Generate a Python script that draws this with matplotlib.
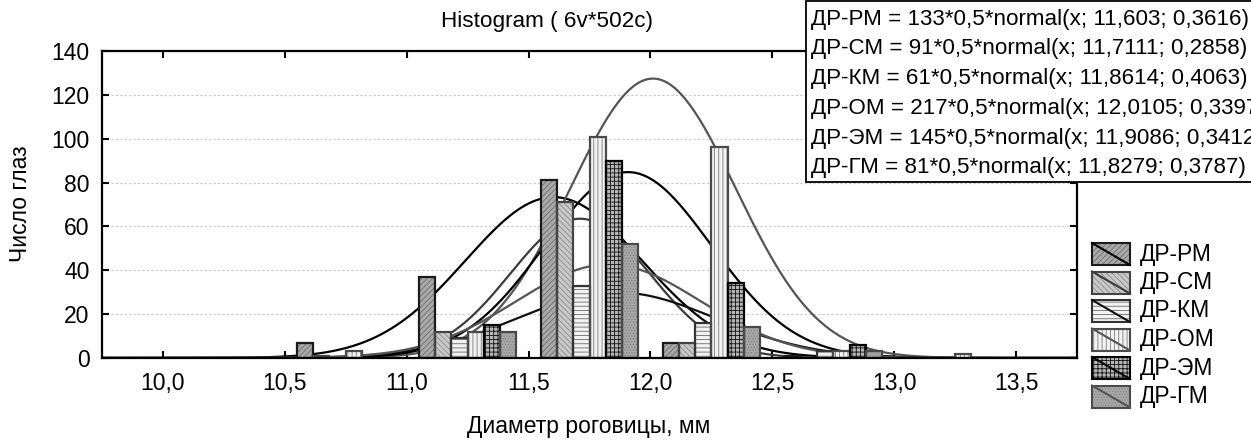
import numpy as np
import matplotlib
matplotlib.use('Agg')
import matplotlib.pyplot as plt
from matplotlib.patches import Rectangle
from matplotlib.lines import Line2D
from matplotlib.ticker import MultipleLocator, FuncFormatter

plt.rcParams['font.family'] = ['Liberation Sans', 'DejaVu Sans']
plt.rcParams['hatch.linewidth'] = 0.6

# ---------------- data ----------------
series = ['ДР-РМ', 'ДР-СМ', 'ДР-КМ', 'ДР-ОМ', 'ДР-ЭМ', 'ДР-ГМ']
bin_centers = [10.25, 10.75, 11.25, 11.75, 12.25, 12.75, 13.25]
bin_width = 0.5

counts_rm = [0, 7, 37, 81, 7, 1, 0]
counts_sm = [0, 1, 12, 71, 7, 0, 0]
counts_km = [0, 0, 9, 33, 16, 3, 0]
counts_om = [0, 3, 12, 101, 96, 3, 2]
counts_em = [0, 0, 15, 90, 34, 6, 0]
counts_gm = [0, 0, 12, 52, 14, 3, 0]
counts = [counts_rm, counts_sm, counts_km, counts_om, counts_em, counts_gm]

fit_n = [133, 91, 61, 217, 145, 81]
fit_mean = [11.603, 11.7111, 11.8614, 12.0105, 11.9086, 11.8279]
fit_sd = [0.3616, 0.2858, 0.4063, 0.3397, 0.3412, 0.3787]
fit_n_txt = ['133', '91', '61', '217', '145', '81']
fit_mean_txt = ['11,603', '11,7111', '11,8614', '12,0105', '11,9086', '11,8279']
fit_sd_txt = ['0,3616', '0,2858', '0,4063', '0,3397', '0,3412', '0,3787']

title = 'Histogram ( 6v*502c)'
xlabel = 'Диаметр роговицы, мм'
ylabel = 'Число глаз'

# ---------------- styles ----------------
face = ['#a9a9a9', '#c9c9c9', '#f2f2f2', '#f2f2f2', '#b5b5b5', '#a8a8a8']
hatch = ['//////', '\\\\\\\\\\\\', '----', '||||', '++++', '......']
hcol = ['#6e6e6e', '#8c8c8c', '#6a6a6a', '#7a7a7a', '#111111', '#838383']
edge = ['#1a1a1a', '#444444', '#333333', '#4a4a4a', '#000000', '#4a4a4a']
lcol = ['#000000', '#3c3c3c', '#111111', '#555555', '#000000', '#555555']

W, H = 1251, 441
fig = plt.figure(figsize=(W / 100, H / 100), dpi=100)
fig.patch.set_facecolor('white')

def fx(px):
    return px / W

def fy(py):
    return 1 - py / H

ax = fig.add_axes([fx(102), fy(358), fx(1077) - fx(102), fy(51) - fy(358)])
ax.set_xlim(9.75, 13.75)
ax.set_ylim(0, 140)

bar_w = bin_width * 0.8 / len(series)
xs = np.linspace(9.75, 13.75, 800)
for i, name in enumerate(series):
    n, m, s = fit_n[i], fit_mean[i], fit_sd[i]
    y = n * bin_width * np.exp(-0.5 * ((xs - m) / s) ** 2) / (s * np.sqrt(2 * np.pi))
    ax.plot(xs, y, color=lcol[i], lw=1.6, zorder=1.5, solid_capstyle='butt')

for i, name in enumerate(series):
    c = np.array(counts[i], dtype=float)
    x = np.array(bin_centers) + (i - 2.5) * bar_w
    mask = c > 0
    ax.bar(x[mask], c[mask], width=bar_w, color=face[i], hatch=hatch[i],
           edgecolor=hcol[i], linewidth=0, zorder=2)
    ax.bar(x[mask], c[mask], width=bar_w, fill=False,
           edgecolor=edge[i], linewidth=1.6, zorder=2.1)

ax.xaxis.set_major_locator(MultipleLocator(0.5))
ax.yaxis.set_major_locator(MultipleLocator(20))
ax.xaxis.set_major_formatter(FuncFormatter(lambda v, p: f'{v:.1f}'.replace('.', ',')))
ax.yaxis.set_major_formatter(FuncFormatter(lambda v, p: f'{v:.0f}'))
ax.tick_params(direction='in', length=5, width=1.5, top=True, right=True,
               labelsize=16.5, colors='black')
ax.tick_params(axis='y', pad=9)
ax.tick_params(axis='x', pad=10)
ax.yaxis.grid(True, linestyle=(0, (2, 2)), color='#c8c8c8', lw=0.8)
ax.set_axisbelow(True)
for sp in ax.spines.values():
    sp.set_linewidth(1.6)
    sp.set_color('black')

fig.text(fx(547), fy(22), title, ha='center', va='center', fontsize=16.2)
fig.text(fx(589), fy(427), xlabel, ha='center', va='center', fontsize=16.5)
fig.text(fx(21), fy(204), ylabel, ha='center', va='center', rotation=90, fontsize=16.5)

# formula box
fig.add_artist(Rectangle((fx(806), fy(182)), 0.5, fy(1) - fy(182),
                         transform=fig.transFigure, facecolor='white',
                         edgecolor='black', lw=1.3, zorder=5))
for i, name in enumerate(series):
    txt = f'{name} = {fit_n_txt[i]}*0,5*normal(x; {fit_mean_txt[i]}; {fit_sd_txt[i]})'
    fig.text(fx(811), fy(19 + 29.8 * i), txt, ha='left', va='center',
             fontsize=16.1, zorder=6)

# legend (drawn as patches + diagonal line)
for i, name in enumerate(series):
    top = 243 + 28.5 * i
    rect_h = 22
    fig.add_artist(Rectangle((fx(1092), fy(top + rect_h)), fx(38), rect_h / H,
                             transform=fig.transFigure, facecolor=face[i],
                             hatch=hatch[i], edgecolor=hcol[i], lw=0, zorder=5))
    fig.add_artist(Rectangle((fx(1092), fy(top + rect_h)), fx(38), rect_h / H,
                             transform=fig.transFigure, fill=False,
                             edgecolor=edge[i], lw=1.5, zorder=5.1))
    fig.add_artist(Line2D([fx(1092), fx(1130)], [fy(top), fy(top + rect_h)],
                          transform=fig.transFigure, color=lcol[i], lw=1.5, zorder=5.2))
    fig.text(fx(1140), fy(top + rect_h / 2), name, ha='left', va='center',
             fontsize=16.4, zorder=6)

fig.savefig('out.png', dpi=100)
